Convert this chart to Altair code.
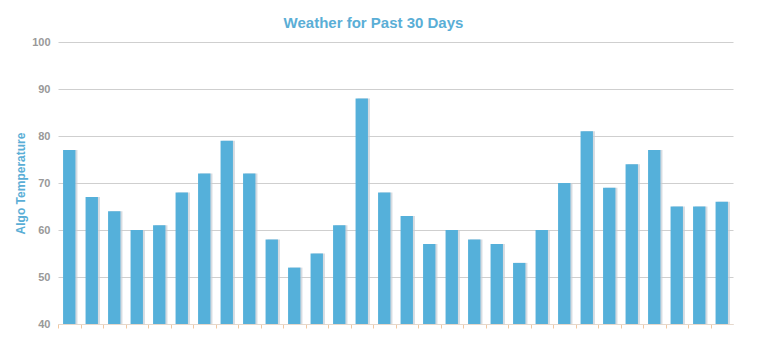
import altair as alt
import pandas as pd

days = list(range(1, 31))
temps = [77, 67, 64, 60, 61, 68, 72, 79, 72, 58, 52, 55, 61, 88, 68,
         63, 57, 60, 58, 57, 53, 60, 70, 81, 69, 74, 77, 65, 65, 66]
y_ticks = [40, 50, 60, 70, 80, 90, 100]

df = pd.DataFrame({"day": days, "temp": temps})

x_enc = alt.X("day:O", title=None,
              scale=alt.Scale(paddingInner=0.45, paddingOuter=0.225),
              axis=alt.Axis(labels=False, ticks=True, tickSize=4, tickColor="#f2c8a0",
                            bandPosition=0, tickOffset=-5, domain=True,
                            domainColor="#e6d8cc", grid=False))
y_enc = alt.Y("temp:Q", title="Algo Temperature",
              scale=alt.Scale(domain=[40, 100], nice=False, zero=False),
              axis=alt.Axis(values=y_ticks, grid=True, gridColor="#cfcfcf", domain=False,
                            ticks=False, labelPadding=8, labelColor="#999999",
                            labelFontSize=11, labelFontWeight="bold", labelFont="Arial",
                            titleColor="#5aaed6", titleFontSize=12, titleFont="Arial",
                            titleFontWeight="bold", titlePadding=4))
y2_enc = alt.Y2(datum=40)

base = alt.Chart(df)
shadow = base.mark_bar(color="#c4ccd4", opacity=0.7, xOffset=2).encode(x=x_enc, y=y_enc, y2=y2_enc)
bars = base.mark_bar(color="#55b0da").encode(x=x_enc, y=y_enc, y2=y2_enc)

chart = alt.layer(shadow, bars).properties(
    width=675, height=282,
    padding={"left": 58, "top": 42, "right": 27, "bottom": 28},
    autosize=alt.AutoSizeParams(type="none"),
    title=alt.TitleParams("Weather for Past 30 Days", color="#5aaed6", fontSize=15,
                          font="Arial", fontWeight="bold", anchor="middle", dx=-22, offset=5),
).configure_view(stroke=None)

chart.save("out.html", embed_options={"renderer": "svg", "actions": False})
